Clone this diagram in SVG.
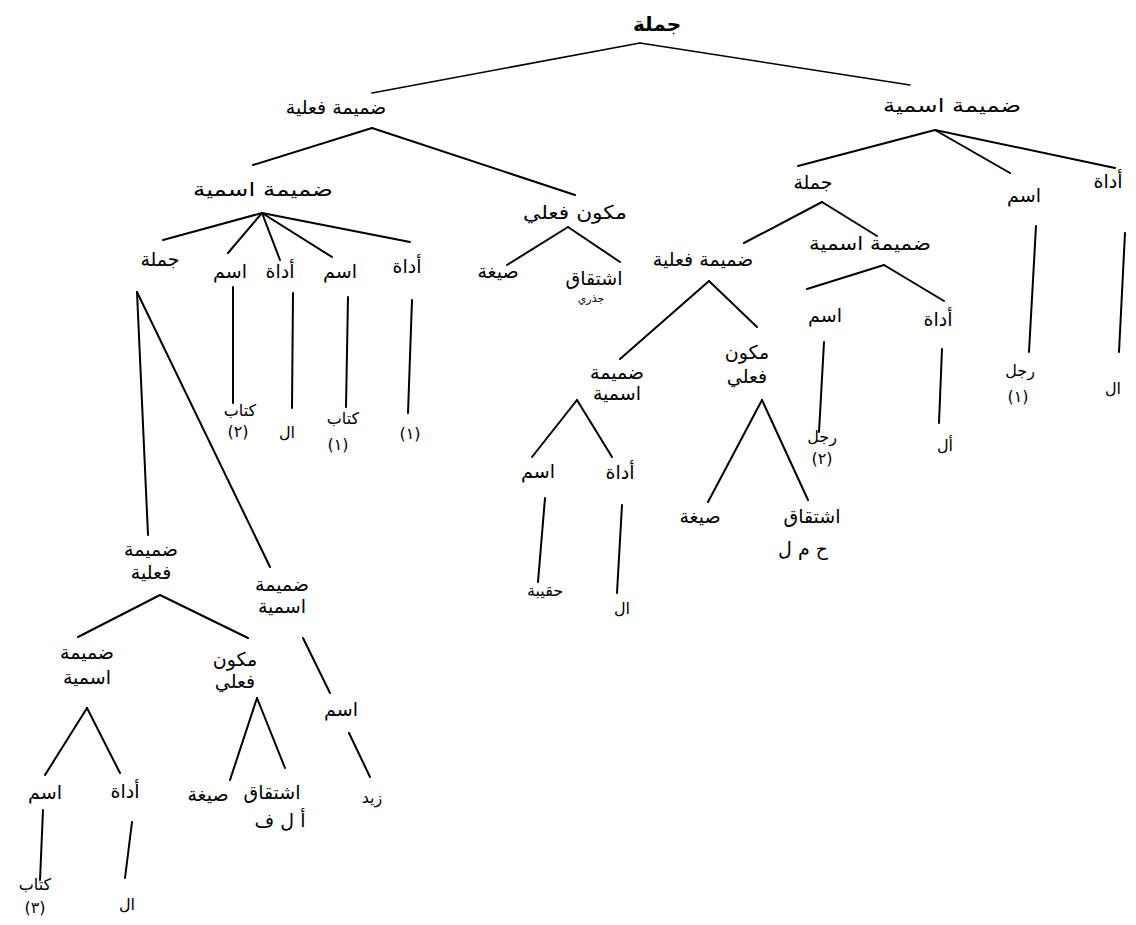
<svg xmlns="http://www.w3.org/2000/svg" width="1136" height="925" viewBox="0 0 1136 925">
<style>
text{font-family:"DejaVu Sans","Noto Sans",sans-serif;fill:#000;text-anchor:middle}
.l{font-size:19px}
.b{font-size:20px;font-weight:bold}
.s{font-size:16px}
.t{font-size:11px}
.e line{stroke:#000;stroke-width:2;stroke-linecap:round}
.e line.thin{stroke-width:1.6}
</style>
<rect width="1136" height="925" fill="#fff"/>
<g id="connectors" class="e">
<line class="thin" x1="640" y1="43" x2="372" y2="93"/>
<line class="thin" x1="640" y1="43" x2="910" y2="85"/>
<line x1="372" y1="128" x2="253" y2="165"/>
<line x1="372" y1="128" x2="575" y2="195"/>
<line x1="262" y1="213" x2="163" y2="240"/>
<line x1="262" y1="213" x2="228" y2="253"/>
<line x1="262" y1="213" x2="280" y2="260"/>
<line x1="262" y1="213" x2="332" y2="257"/>
<line x1="262" y1="213" x2="410" y2="242"/>
<line x1="568" y1="227" x2="507" y2="265"/>
<line x1="568" y1="227" x2="620" y2="262"/>
<line x1="233" y1="287" x2="233" y2="403"/>
<line x1="293" y1="293" x2="292" y2="408"/>
<line x1="348" y1="297" x2="346" y2="407"/>
<line x1="412" y1="300" x2="408" y2="413"/>
<line x1="137" y1="292" x2="148" y2="535"/>
<line x1="137" y1="292" x2="270" y2="567"/>
<line x1="160" y1="595" x2="78" y2="637"/>
<line x1="160" y1="595" x2="248" y2="638"/>
<line x1="303" y1="638" x2="330" y2="693"/>
<line x1="349" y1="733" x2="370" y2="777"/>
<line x1="87" y1="708" x2="45" y2="775"/>
<line x1="87" y1="708" x2="120" y2="773"/>
<line x1="43" y1="810" x2="40" y2="880"/>
<line x1="132" y1="822" x2="125" y2="878"/>
<line x1="257" y1="698" x2="230" y2="780"/>
<line x1="257" y1="698" x2="285" y2="768"/>
<line x1="935" y1="130" x2="798" y2="166"/>
<line x1="935" y1="130" x2="1010" y2="173"/>
<line x1="935" y1="130" x2="1115" y2="168"/>
<line x1="822" y1="202" x2="744" y2="243"/>
<line x1="822" y1="202" x2="877" y2="236"/>
<line x1="1036" y1="226" x2="1029" y2="352"/>
<line x1="1125" y1="233" x2="1119" y2="352"/>
<line x1="884" y1="265" x2="807" y2="289"/>
<line x1="884" y1="265" x2="944" y2="301"/>
<line x1="824" y1="342" x2="819" y2="432"/>
<line x1="942" y1="349" x2="939" y2="423"/>
<line x1="709" y1="281" x2="620" y2="359"/>
<line x1="709" y1="281" x2="757" y2="327"/>
<line x1="577" y1="400" x2="532" y2="457"/>
<line x1="577" y1="400" x2="612" y2="457"/>
<line x1="545" y1="498" x2="538" y2="582"/>
<line x1="622" y1="505" x2="617" y2="593"/>
<line x1="762" y1="400" x2="708" y2="502"/>
<line x1="762" y1="400" x2="808" y2="500"/>
</g>
<g id="n0"><text class="b" x="657" y="31">جملة</text></g>
<g id="n1"><text class="l" x="336" y="114">ضميمة فعلية</text></g>
<g id="n2"><text class="l" x="952" y="112" textLength="138" lengthAdjust="spacingAndGlyphs">ضميمة اسمية</text></g>
<g id="n3"><text class="l" x="263" y="196" textLength="140" lengthAdjust="spacingAndGlyphs">ضميمة اسمية</text></g>
<g id="n4"><text class="l" x="575" y="219" textLength="104" lengthAdjust="spacingAndGlyphs">مكون فعلي</text></g>
<g id="n5"><text class="l" x="160" y="266">جملة</text></g>
<g id="n6"><text class="l" x="230" y="278">اسم</text></g>
<g id="n7"><text class="l" x="280" y="278">أداة</text></g>
<g id="n8"><text class="l" x="340" y="278">اسم</text></g>
<g id="n9"><text class="l" x="407" y="273">أداة</text></g>
<g id="n10"><text class="l" x="498" y="278">صيغة</text></g>
<g id="n11"><text class="l" x="594" y="285">اشتقاق</text><text class="t" x="591" y="302">جذري</text></g>
<g id="n12"><text class="s" x="240" y="416">كتاب</text><text class="s" x="238" y="437">(٢)</text></g>
<g id="n13"><text class="s" x="287" y="438">ال</text></g>
<g id="n14"><text class="s" x="343" y="424">كتاب</text><text class="s" x="338" y="450">(١)</text></g>
<g id="n15"><text class="s" x="410" y="439">(١)</text></g>
<g id="n16"><text class="l" x="813" y="189">جملة</text></g>
<g id="n17"><text class="l" x="1024" y="202">اسم</text></g>
<g id="n18"><text class="l" x="1108" y="188">أداة</text></g>
<g id="n19"><text class="s" x="1020" y="376">رجل</text><text class="s" x="1018" y="402">(١)</text></g>
<g id="n20"><text class="s" x="1113" y="394">ال</text></g>
<g id="n21"><text class="l" x="703" y="266">ضميمة فعلية</text></g>
<g id="n22"><text class="l" x="870" y="250" textLength="122" lengthAdjust="spacingAndGlyphs">ضميمة اسمية</text></g>
<g id="n23"><text class="l" x="825" y="322">اسم</text></g>
<g id="n24"><text class="l" x="938" y="326">أداة</text></g>
<g id="n25"><text class="s" x="822" y="442">رجل</text><text class="s" x="822" y="464">(٢)</text></g>
<g id="n26"><text class="s" x="945" y="451">أل</text></g>
<g id="n27"><text class="l" x="617" y="379">ضميمة</text><text class="l" x="617" y="400">اسمية</text></g>
<g id="n28"><text class="l" x="747" y="359">مكون</text><text class="l" x="747" y="383">فعلي</text></g>
<g id="n29"><text class="l" x="538" y="478">اسم</text></g>
<g id="n30"><text class="l" x="620" y="479">أداة</text></g>
<g id="n31"><text class="s" x="545" y="596">حقيبة</text></g>
<g id="n32"><text class="s" x="622" y="614">ال</text></g>
<g id="n33"><text class="l" x="700" y="523">صيغة</text></g>
<g id="n34"><text class="l" x="812" y="523">اشتقاق</text><text class="l" x="803" y="555">ح م ل</text></g>
<g id="n35"><text class="l" x="151" y="556">ضميمة</text><text class="l" x="151" y="579">فعلية</text></g>
<g id="n36"><text class="l" x="282" y="591">ضميمة</text><text class="l" x="282" y="613">اسمية</text></g>
<g id="n37"><text class="l" x="87" y="659">ضميمة</text><text class="l" x="87" y="684">اسمية</text></g>
<g id="n38"><text class="l" x="235" y="666">مكون</text><text class="l" x="235" y="688">فعلي</text></g>
<g id="n39"><text class="l" x="341" y="716">اسم</text></g>
<g id="n40"><text class="s" x="372" y="803">زيد</text></g>
<g id="n41"><text class="l" x="45" y="799">اسم</text></g>
<g id="n42"><text class="l" x="125" y="798">أداة</text></g>
<g id="n43"><text class="s" x="35" y="890">كتاب</text><text class="s" x="35" y="913">(٣)</text></g>
<g id="n44"><text class="s" x="127" y="910">ال</text></g>
<g id="n45"><text class="l" x="208" y="801">صيغة</text></g>
<g id="n46"><text class="l" x="272" y="799">اشتقاق</text><text class="l" x="280" y="827">أ ل ف</text></g>
</svg>
